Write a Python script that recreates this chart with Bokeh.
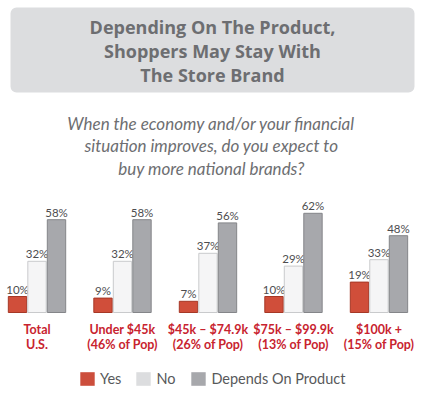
from bokeh.plotting import figure
from bokeh.models import (ColumnDataSource, Range1d, Label, BoxAnnotation, Legend, LegendItem)
from bokeh.transform import dodge
from bokeh.core.properties import value
from bokeh.embed import file_html
from bokeh.resources import INLINE

# ---- data ----
groups = ["Total\nU.S.", "Under $45k\n(46% of Pop)", "$45k \u2013 $74.9k\n(26% of Pop)",
          "$75k \u2013 $99.9k\n(13% of Pop)", "$100k +\n(15% of Pop)"]
yes = [10, 9, 7, 10, 19]
no = [32, 32, 37, 29, 33]
depends = [58, 58, 56, 62, 48]
series_names = ["Yes", "No", "Depends On Product"]

title_text = "Depending On The Product,\nShoppers May Stay With\nThe Store Brand"
subtitle_text = ("When the economy and/or your financial\n"
                 "situation improves, do you expect to\n"
                 "buy more national brands?")

# ---- styles ----
W, H = 432, 395
GRAY_TXT = "#6D6E71"
RED_TXT = "#C8232F"
fills = ["#D04E3A", "#F5F5F6", "#A7A8AC"]
edges = ["#A63826", "#C9CACC", "#848589"]
legend_cols = ["#CC4E3C", "#DCDDDF", "#A7A8AC"]

src = ColumnDataSource(dict(
    x=list(range(len(groups))), cat=groups, yes=yes, no=no, dep=depends,
    yes_l=[f"{v}%" for v in yes], no_l=[f"{v}%" for v in no], dep_l=[f"{v}%" for v in depends],
))

p = figure(width=W, height=H, output_backend="svg", toolbar_location=None,
           x_range=Range1d(-0.427, 4.626), y_range=Range1d(-51.875, 195),
           min_border=0, min_border_left=0, min_border_right=0,
           min_border_top=0, min_border_bottom=0)
p.axis.visible = False
p.grid.visible = False
p.outline_line_color = None
p.background_fill_color = "white"
p.border_fill_color = "white"

# title box
p.add_layout(BoxAnnotation(left=10, right=414, top=H - 7, bottom=H - 92,
                           left_units="screen", right_units="screen",
                           top_units="screen", bottom_units="screen",
                           fill_color="#DCDDDF", fill_alpha=1, line_color=None,
                           border_radius=6, level="underlay"))
p.add_layout(Label(x=212, y=H - 14, x_units="screen", y_units="screen", text=title_text,
                   text_align="center", text_baseline="top",
                   text_font="Open Sans", text_font_style="bold", text_font_size="18px",
                   text_color=GRAY_TXT, text_line_height=1.0))
p.add_layout(Label(x=211, y=H - 112, x_units="screen", y_units="screen", text=subtitle_text,
                   text_align="center", text_baseline="top",
                   text_font="Lato", text_font_style="italic", text_font_size="17px",
                   text_color=GRAY_TXT, text_line_height=1.08))

off = 0.228
bw = 0.215
cols = ["yes", "no", "dep"]
offsets = [-off, 0.0, off]
for c, o, f, e in zip(cols, offsets, fills, edges):
    p.vbar(x=dodge("x", o, range=p.x_range), top=c, bottom=0, width=bw, source=src,
           fill_color=f, line_color=e, line_width=1)
    p.text(x=dodge("x", o, range=p.x_range), y=c, text=c + "_l", source=src,
           text_align="center", text_baseline="bottom", y_offset=-1,
           text_font=value("Lato"), text_font_size="11.5px",
           text_color="#4D4D4F")

# category labels
p.text(x="x", y=0, text="cat", source=src, text_align="center", text_baseline="top",
       y_offset=9, text_font=value("Lato"), text_font_style="bold",
       text_font_size="12.5px", text_color=RED_TXT, text_line_height=1.05)

# legend (zero-height swatches drawn from the same data, used only for the key)
items = []
for c, o, lc, name in zip(cols, offsets, legend_cols, series_names):
    r = p.vbar(x=dodge("x", o, range=p.x_range), top=c, bottom=c, width=bw, source=src,
               fill_color=lc, line_color=None)
    items.append(LegendItem(label=name, renderers=[r]))
leg = Legend(items=items, orientation="horizontal", location=(78, 8),
             glyph_width=18, glyph_height=17, label_height=17, label_standoff=4,
             spacing=13, padding=0, margin=0, border_line_color=None,
             background_fill_alpha=0, label_text_font="Lato",
             label_text_font_size="14.5px", label_text_color="#58595B")
p.add_layout(leg)

open("out.html", "w").write(file_html(p, INLINE))
